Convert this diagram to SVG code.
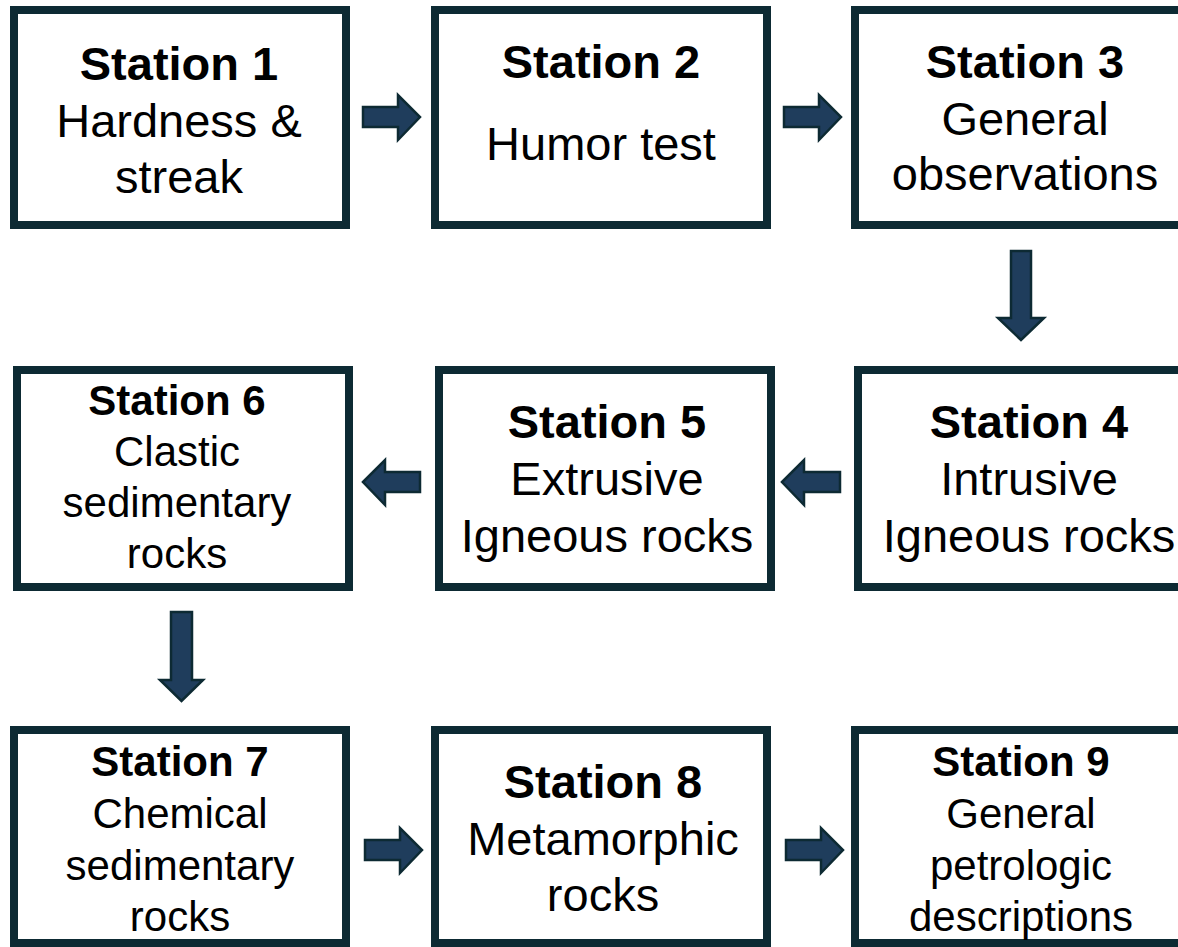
<svg xmlns="http://www.w3.org/2000/svg" width="1178" height="947" viewBox="0 0 1178 947">
<style>
.box{fill:#ffffff;stroke:#0d2a33;stroke-width:8}
.arr{fill:#1f3d5c;stroke:#0d2a33;stroke-width:2.5;stroke-linejoin:miter}
text{font-family:"Liberation Sans",Arial,sans-serif;fill:#000;text-anchor:middle}
.b{font-weight:bold}
.l{font-size:47px}
.s{font-size:42px}
</style>
<rect width="1178" height="947" fill="#ffffff"/>
<g id="connectors">
<polygon class="arr" points="363,107 398,107 398,95 420,117 398,140 398,127 363,127"/>
<polygon class="arr" points="784,107 819,107 819,95 841,117 819,140 819,127 784,127"/>
<polygon class="arr" points="1011,251 1031,251 1031,318 1044,318 1021,340 998,318 1011,318"/>
<polygon class="arr" points="782,482 804,460 804,472 840,472 840,492 804,492 804,505"/>
<polygon class="arr" points="363,482 385,460 385,472 420,472 420,492 385,492 385,505"/>
<polygon class="arr" points="171,612 192,612 192,680 203,680 181.5,701 160,680 171,680"/>
<polygon class="arr" points="365,840 400,840 400,828 422,850 400,873 400,860 365,860"/>
<polygon class="arr" points="786,840 821,840 821,828 843,850 821,873 821,860 786,860"/>
</g>
<g id="station1">
<rect class="box" x="14" y="10" width="332" height="215"/>
<text class="l b" x="179" y="80">Station 1</text>
<text class="l" x="179" y="137">Hardness &amp;</text>
<text class="l" x="179" y="193">streak</text>
</g>
<g id="station2">
<rect class="box" x="435" y="10" width="332" height="215"/>
<text class="l b" x="601" y="78">Station 2</text>
<text class="l" x="601" y="160">Humor test</text>
</g>
<g id="station3">
<rect class="box" x="855" y="10" width="332" height="215"/>
<text class="l b" x="1025" y="78">Station 3</text>
<text class="l" x="1025" y="135">General</text>
<text class="l" x="1025" y="190">observations</text>
</g>
<g id="station4">
<rect class="box" x="858" y="370" width="332" height="217"/>
<text class="l b" x="1029" y="438">Station 4</text>
<text class="l" x="1029" y="495">Intrusive</text>
<text class="l" x="1029" y="552">Igneous rocks</text>
</g>
<g id="station5">
<rect class="box" x="439" y="370" width="332" height="217"/>
<text class="l b" x="607" y="438">Station 5</text>
<text class="l" x="607" y="495">Extrusive</text>
<text class="l" x="607" y="552">Igneous rocks</text>
</g>
<g id="station6">
<rect class="box" x="17" y="370" width="332" height="217"/>
<text class="s b" x="177" y="415">Station 6</text>
<text class="s" x="177" y="466">Clastic</text>
<text class="s" x="177" y="517">sedimentary</text>
<text class="s" x="177" y="568">rocks</text>
</g>
<g id="station7">
<rect class="box" x="14" y="730" width="332" height="213"/>
<text class="s b" x="180" y="776">Station 7</text>
<text class="s" x="180" y="828">Chemical</text>
<text class="s" x="180" y="880">sedimentary</text>
<text class="s" x="180" y="931">rocks</text>
</g>
<g id="station8">
<rect class="box" x="435" y="730" width="332" height="213"/>
<text class="l b" x="603" y="798">Station 8</text>
<text class="l" x="603" y="855">Metamorphic</text>
<text class="l" x="603" y="911">rocks</text>
</g>
<g id="station9">
<rect class="box" x="855" y="730" width="332" height="213"/>
<text class="s b" x="1021" y="776">Station 9</text>
<text class="s" x="1021" y="828">General</text>
<text class="s" x="1021" y="880">petrologic</text>
<text class="s" x="1021" y="931">descriptions</text>
</g>
</svg>
